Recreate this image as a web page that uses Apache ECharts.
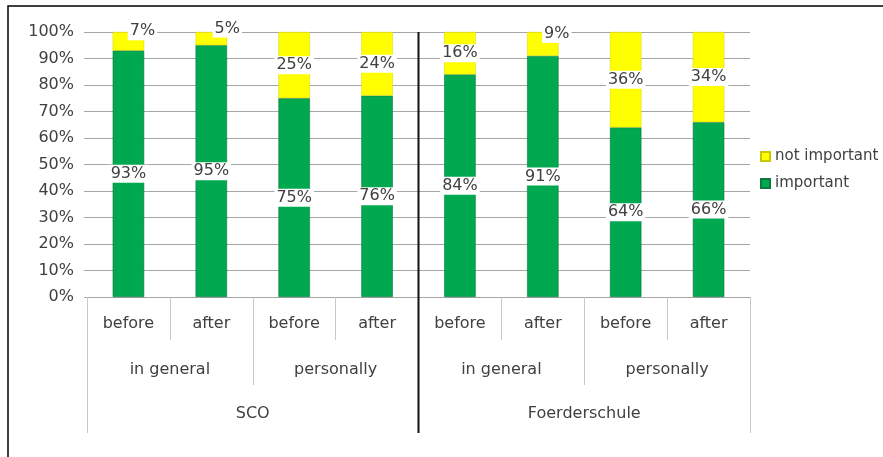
<!DOCTYPE html>
<html>
<head>
<meta charset="utf-8">
<script src="https://cdn.jsdelivr.net/npm/echarts@6/dist/echarts.min.js"></script>
<style>
  html, body { margin: 0; padding: 0; background: #fff; }
  #chart { width: 883px; height: 457px; }
</style>
</head>
<body>
<div id="chart"></div>
<script>
// data
const phases = ["before", "after", "before", "after", "before", "after", "before", "after"];
const aspects = ["in general", "personally", "in general", "personally"];
const schools = ["SCO", "Foerderschule"];
const important = [93, 95, 75, 76, 84, 91, 64, 66];
const notImportant = [7, 5, 25, 24, 16, 9, 36, 34];
const yTicks = [0, 10, 20, 30, 40, 50, 60, 70, 80, 90, 100];

const textColor = "#404040";
const gridLeft = 87, gridRight = 133, gridTop = 32, gridBottom = 160;
const font = "DejaVu Sans";

const chart = echarts.init(document.getElementById("chart"));

const labelStyle = {
  show: true,
  position: "inside",
  formatter: "{c}%",
  color: textColor,
  fontFamily: font,
  fontSize: 16,
  backgroundColor: "#fff",
  padding: [1, 2],
};

// small top segments had their labels nudged up/right in the original
function yellowData(vals) {
  return vals.map(v => v < 10 ? { value: v, label: { offset: [v < 6 ? 16 : 14, -10] } } : v);
}

const sepColor = "#c8c8c8";

chart.setOption({
  animation: false,
  textStyle: { fontFamily: font },
  grid: { left: gridLeft, right: gridRight, top: gridTop, bottom: gridBottom },
  legend: {
    orient: "vertical",
    left: 755,
    top: 144,
    itemWidth: 9,
    itemHeight: 9,
    itemGap: 12,
    icon: "rect",
    data: ["not important", "important"],
    textStyle: { color: textColor, fontSize: 15, fontFamily: font },
  },
  xAxis: [
    {
      type: "category",
      data: phases,
      axisLine: { show: true, lineStyle: { color: "#a6a6a6" } },
      axisTick: { show: true, interval: 0, length: 43, lineStyle: { color: sepColor } },
      axisLabel: { interval: 0, margin: 19, color: textColor, fontSize: 16, fontFamily: font },
    },
    {
      type: "category",
      data: aspects,
      position: "bottom",
      offset: 43,
      axisLine: { show: false },
      axisTick: { show: true, interval: 0, length: 45, lineStyle: { color: sepColor } },
      axisLabel: { interval: 0, margin: 22, color: textColor, fontSize: 16, fontFamily: font },
    },
    {
      type: "category",
      data: schools,
      position: "bottom",
      offset: 88,
      axisLine: { show: false },
      axisTick: { show: true, interval: 0, length: 48, lineStyle: { color: sepColor } },
      axisLabel: { interval: 0, margin: 21, color: textColor, fontSize: 16, fontFamily: font },
    },
  ],
  yAxis: {
    type: "value",
    min: yTicks[0],
    max: yTicks[yTicks.length - 1],
    interval: yTicks[1] - yTicks[0],
    axisLine: { show: false },
    axisTick: { show: true, length: 3, lineStyle: { color: "#a6a6a6" } },
    axisLabel: { formatter: "{value}%", color: textColor, fontSize: 16, fontFamily: font, margin: 13 },
    splitLine: { lineStyle: { color: "#a6a6a6", width: 1 } },
  },
  series: [
    {
      name: "important",
      type: "bar",
      stack: "total",
      barWidth: "38%",
      data: important,
      itemStyle: { color: "#00a84f", borderColor: "#0b7a3e", borderWidth: 0.6 },
      label: labelStyle,
    },
    {
      name: "not important",
      type: "bar",
      stack: "total",
      barWidth: "38%",
      data: yellowData(notImportant),
      itemStyle: { color: "#ffff00", borderColor: "#c8c800", borderWidth: 0.4 },
      label: labelStyle,
    },
  ],
  graphic: [
    {
      type: "rect",
      shape: { x: 8, y: 6, width: 1000, height: 1000 },
      style: { fill: "none", stroke: "#000", lineWidth: 1.5 },
      silent: true,
    },
    {
      type: "line",
      z: 100,
      shape: {
        x1: gridLeft + (883 - gridLeft - gridRight) / 2,
        y1: gridTop,
        x2: gridLeft + (883 - gridLeft - gridRight) / 2,
        y2: 433,
      },
      style: { stroke: "#111", lineWidth: 2 },
      silent: true,
    },
  ],
});
</script>
</body>
</html>
